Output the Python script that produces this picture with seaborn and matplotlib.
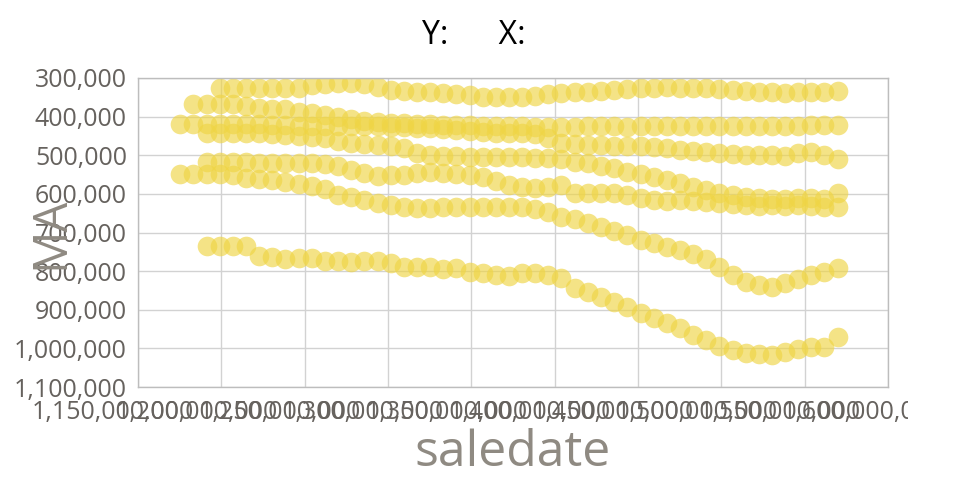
import matplotlib
matplotlib.use("Agg")
import matplotlib.pyplot as plt
import matplotlib.transforms as mtransforms
from matplotlib.ticker import FuncFormatter
import pandas as pd
import seaborn as sns

# quarter-end sale dates, 2007 Q1 .. 2019 Q3
try:
    quarters = pd.date_range("2007-03-31", "2019-09-30", freq="QE")
except ValueError:
    quarters = pd.date_range("2007-03-31", "2019-09-30", freq="Q")
saledate = list((quarters - pd.Timestamp("1970-01-01")) // pd.Timedelta("1s"))

# moving average per series (thousands), first quarter index in `quarters`
house3_start = 0
house3_ma = [419, 419, 419, 419, 419, 419, 419, 422, 422, 424, 424, 424, 424, 424, 424, 424,
             427, 427, 429, 429, 432, 435, 437, 440, 442, 442, 442, 445, 455, 468, 471, 473,
             473, 476, 476, 476, 479, 481, 486, 489, 492, 494, 497, 499, 499, 499, 502, 494,
             492, 499, 510]

house4_start = 0
house4_ma = [549, 549, 549, 549, 551, 559, 561, 564, 569, 574, 580, 587, 603, 608, 616, 624,
             629, 634, 637, 637, 634, 634, 634, 634, 634, 634, 634, 639, 647, 660, 665, 675,
             686, 696, 706, 719, 727, 738, 745, 756, 769, 789, 810, 828, 836, 841, 831, 820,
             810, 802, 792]

unit2_start = 1
unit2_ma = [367, 367, 367, 367, 372, 378, 380, 380, 388, 391, 396, 401, 406, 411, 414, 417,
            417, 419, 419, 422, 422, 422, 424, 424, 424, 424, 427, 427, 427, 427, 424, 424,
            424, 427, 424, 424, 424, 424, 424, 424, 424, 424, 424, 424, 424, 424, 424, 422,
            422, 422]

house2_start = 2
house2_ma = [442, 442, 442, 442, 442, 445, 448, 450, 453, 455, 463, 468, 471, 473, 476, 481,
             494, 499, 502, 502, 505, 505, 505, 505, 505, 507, 507, 510, 517, 520, 528, 533,
             543, 549, 556, 564, 572, 582, 590, 598, 603, 608, 611, 613, 613, 611, 611, 613,
             598]

unit3_start = 2
unit3_ma = [517, 517, 517, 517, 520, 520, 520, 520, 520, 522, 528, 538, 546, 554, 551, 551,
            546, 543, 546, 549, 551, 556, 567, 577, 582, 585, 582, 577, 598, 598, 598, 598,
            603, 611, 616, 618, 616, 618, 621, 624, 626, 629, 631, 629, 631, 629, 631, 634,
            634]

house5_start = 2
house5_ma = [736, 736, 736, 736, 760, 763, 768, 765, 766, 773, 774, 776, 773, 774, 779, 789,
             789, 790, 794, 792, 802, 805, 810, 813, 805, 805, 810, 818, 844, 854, 867, 880,
             893, 908, 921, 934, 947, 965, 978, 994, 1004, 1012, 1015, 1017, 1009, 1001, 996,
             996, 971]

unit1_start = 3
unit1_ma = [326, 326, 326, 326, 327, 327, 326, 318, 316, 313, 313, 316, 323, 331, 334, 336,
            336, 339, 341, 344, 349, 349, 349, 349, 347, 341, 339, 336, 336, 334, 331, 329,
            326, 326, 323, 326, 326, 326, 329, 331, 334, 336, 336, 339, 336, 336, 336, 334]

x_ticks = [1150000000, 1200000000, 1250000000, 1300000000, 1350000000,
           1400000000, 1450000000, 1500000000, 1550000000, 1600000000]
y_ticks = [300000, 400000, 500000, 600000, 700000, 800000, 900000, 1000000, 1100000]

rows = []
for start, vals in [(house3_start, house3_ma), (house4_start, house4_ma),
                    (unit2_start, unit2_ma), (house2_start, house2_ma),
                    (unit3_start, unit3_ma), (house5_start, house5_ma),
                    (unit1_start, unit1_ma)]:
    for i, v in enumerate(vals):
        rows.append((saledate[start + i], v * 1000))
df = pd.DataFrame(rows, columns=["saledate", "MA"])

sns.set_style("white")
plt.rcParams["font.family"] = ["Open Sans", "DejaVu Sans"]

fig = plt.figure(figsize=(9.6, 5), dpi=100)
ax = fig.add_axes([0.14375, 0.226, 0.78125, 0.618])

sns.scatterplot(data=df, x="saledate", y="MA", color="#EFD545", alpha=0.65,
                s=200, linewidth=0, legend=False, ax=ax)

ax.set_xlim(x_ticks[0], x_ticks[-1])
ax.set_ylim(y_ticks[-1], y_ticks[0])
ax.set_xticks(x_ticks)
ax.set_yticks(y_ticks)
fmt = FuncFormatter(lambda v, p: f"{v:,.0f}")
ax.xaxis.set_major_formatter(fmt)
ax.yaxis.set_major_formatter(fmt)

ax.grid(True, color="#d2d2d2", linewidth=1)
ax.set_axisbelow(True)
for sp in ax.spines.values():
    sp.set_color("#bdbdbd")
    sp.set_linewidth(1)

ax.tick_params(axis="both", length=0, labelsize=18, labelcolor="#66625e")
ax.tick_params(axis="x", pad=9)
ax.tick_params(axis="y", pad=8)

# x labels sit left of their grid lines and are cut at the right
shift = mtransforms.ScaledTranslation(-0.25, 0, fig.dpi_scale_trans)
clip = mtransforms.TransformedBbox(mtransforms.Bbox.from_extents(0, 0, 908 / 960, 1),
                                   fig.transFigure)
for lab in ax.get_xticklabels():
    lab.set_transform(lab.get_transform() + shift)
    lab.set_clip_box(clip)
    lab.set_clip_on(True)

ax.set_xlabel("saledate", fontsize=36, color="#8f8a82")
ax.set_ylabel("MA", fontsize=34, color="#8f8a82")
ax.xaxis.set_label_coords(0.5, -0.135)
ax.yaxis.set_label_coords(-0.085, 0.5)

fig.text(474 / 960, 1 - 36 / 500, "Y:      X:", fontsize=23, color="black",
         ha="center", va="center")

fig.savefig("out.png", dpi=100)
